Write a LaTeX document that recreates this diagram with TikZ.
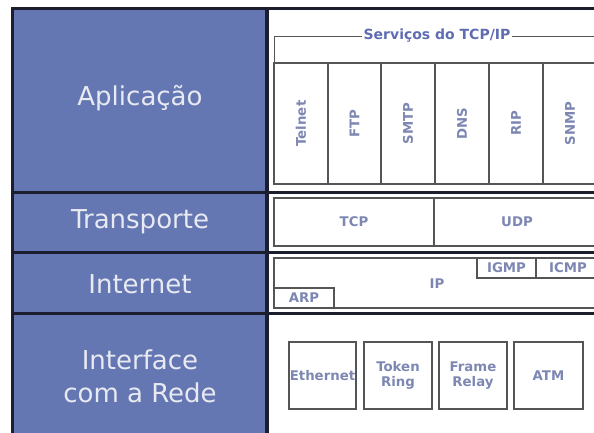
\documentclass[tikz,border=0pt]{standalone}
\usepackage{fontspec}
\setmainfont{DejaVu Sans}
\definecolor{layerblue}{RGB}{101,119,179}
\definecolor{framec}{RGB}{28,30,45}
\definecolor{labtext}{RGB}{232,234,242}
\definecolor{svctext}{RGB}{125,135,178}
\definecolor{titletext}{RGB}{95,108,178}
\definecolor{boxline}{RGB}{85,85,85}
\tikzset{
  layerlabel/.style={text=labtext, font=\fontsize{26}{33}\selectfont, align=center, inner sep=0pt},
  protobox/.style={draw=boxline, line width=1.3pt, text=svctext, font=\bfseries\fontsize{13.3}{15.5}\selectfont, align=center, inner sep=0pt},
  sep/.style={draw=framec, line width=3pt},
}
\begin{document}
\begin{tikzpicture}[x=1pt,y=-1pt]
\useasboundingbox (0,0) rectangle (594,432);
\clip (0,0) rectangle (594,432);
\fill[white] (0,0) rectangle (594,432);
\fill[layerblue] (12,8) rectangle (267,440);
% frame
\draw[sep] (12,440) -- (12,8) -- (600,8);
\draw[framec, line width=3.5pt] (267,8) -- (267,440);
\draw[sep] (12,192) -- (600,192);
\draw[sep] (12,252) -- (600,252);
\draw[sep] (12,313) -- (600,313);
% layer labels
\node[layerlabel] (apl) at (140,98) {Aplicação};
\node[layerlabel] (tra) at (140,222) {Transporte};
\node[layerlabel] (int) at (140,284) {Internet};
\node[layerlabel] (ifr) at (140,376) {Interface\\com a Rede};
% services bracket
\coordinate (brb) at (274,62);
\coordinate (brt) at (274,36);
\coordinate (bre) at (600,36);
\draw[boxline, line width=1pt] (brb) -- (brt) -- (bre);
\node[fill=white, text=titletext, font=\bfseries\fontsize{14}{16}\selectfont, inner sep=2pt] (svc) at (437,36) {Serviços do TCP/IP};
% application protocols
\node[protobox, rotate=90, minimum width=121pt, minimum height=54pt] (telnet) at (301,123.5) {Telnet};
\node[protobox, rotate=90, minimum width=121pt, minimum height=53pt] (ftp) at (354.5,123.5) {FTP};
\node[protobox, rotate=90, minimum width=121pt, minimum height=54pt] (smtp) at (408,123.5) {SMTP};
\node[protobox, rotate=90, minimum width=121pt, minimum height=54pt] (dns) at (462,123.5) {DNS};
\node[protobox, rotate=90, minimum width=121pt, minimum height=54pt] (rip) at (516,123.5) {RIP};
\node[protobox, rotate=90, minimum width=121pt, minimum height=54pt] (snmp) at (570,123.5) {SNMP};
% transport
\node[protobox, minimum width=160pt, minimum height=48pt] (tcp) at (354,222) {TCP};
\node[protobox, minimum width=166pt, minimum height=48pt] (udp) at (517,222) {UDP};
% internet
\node[protobox, minimum width=326pt, minimum height=50pt] (ip) at (437,283) {};
\node[text=svctext, font=\bfseries\fontsize{13.3}{15.5}\selectfont] (iplab) at (437,284) {IP};
\node[protobox, minimum width=59pt, minimum height=20pt] (igmp) at (506.5,268) {IGMP};
\node[protobox, minimum width=64pt, minimum height=20pt] (icmp) at (568,268) {ICMP};
\node[protobox, minimum width=60pt, minimum height=20pt] (arp) at (304,298) {ARP};
% network interface
\node[protobox, minimum width=67pt, minimum height=67pt] (eth) at (322.5,375.5) {Ethernet};
\node[protobox, minimum width=68pt, minimum height=67pt] (tok) at (398,375.5) {Token\\Ring};
\node[protobox, minimum width=68pt, minimum height=67pt] (frm) at (473,375.5) {Frame\\Relay};
\node[protobox, minimum width=69pt, minimum height=67pt] (atm) at (548.5,375.5) {ATM};
\end{tikzpicture}
\end{document}
